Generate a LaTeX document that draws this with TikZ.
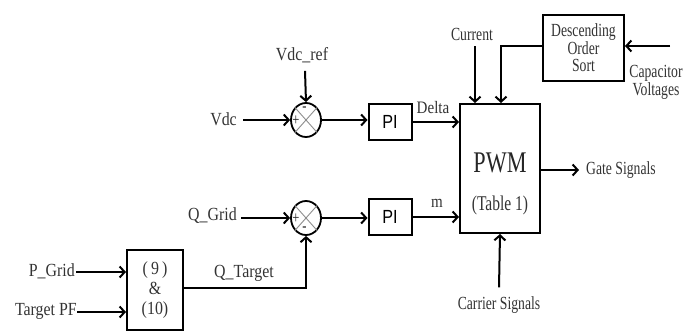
\documentclass[tikz,border=0pt]{standalone}
\usepackage{fontspec}
\setmainfont{Liberation Serif}[FakeStretch=0.74]
\newfontfamily\widefont{Liberation Serif}[FakeStretch=0.86]
\newfontfamily\pisans{Liberation Sans}[FakeStretch=0.85]
\usetikzlibrary{arrows.meta,shapes.geometric,calc}
\begin{document}
\begin{tikzpicture}[x=1pt,y=-1pt,
  lbl/.style={font=\fontsize{18.5}{19}\selectfont, text=black!80, inner sep=0pt},
  wlbl/.style={font=\widefont\fontsize{18.5}{19}\selectfont, text=black!80, inner sep=0pt},
  blk/.style={draw, line width=2pt, inner sep=0pt},
  summ/.style={draw, line width=1.8pt, ellipse, minimum width=30pt, minimum height=34pt, inner sep=0pt},
  arr/.style={line width=2pt, -{Straight Barb[length=5pt,width=11pt,line width=2pt]}},
  xmark/.style={draw=black!45, line width=0.9pt},
  sgn/.style={font=\fontsize{17}{17}\selectfont, inner sep=0pt, text=black!85}
]
\useasboundingbox (0,0) rectangle (684,332);

% blocks
\node[summ] (s1) at (306,120) {};
\node[summ] (s2) at (306,218) {};
\node[blk, minimum width=43pt, minimum height=36pt, font=\pisans\fontsize{19}{19}\selectfont] (pi1) at (390,122) {PI};
\node[blk, minimum width=43pt, minimum height=36pt, font=\pisans\fontsize{19}{19}\selectfont] (pi2) at (390,217) {PI};
\node[blk, minimum width=80pt, minimum height=129pt] (pwm) at (500,168.5) {};
\node[font=\fontsize{30}{30}\selectfont, text=black!85, inner sep=0pt] (pwmt) at (500,163) {PWM};
\node[lbl, font=\fontsize{21}{21}\selectfont] (tab) at (500,205) {(Table 1)};
\node[blk, minimum width=81pt, minimum height=66pt, align=center, lbl, font=\fontsize{18.5}{17.5}\selectfont] (sort) at (583.5,48) {Descending\\Order\\Sort};
\node[blk, minimum width=56pt, minimum height=80pt, align=center, wlbl, font=\widefont\fontsize{18.5}{20}\selectfont] (eq) at (155,290) {(\,9\,)\\\&\\(10)};

% crosses
\draw[xmark] (s1.north east) -- (s1.south west) (s1.north west) -- (s1.south east);
\draw[xmark] (s2.north east) -- (s2.south west) (s2.north west) -- (s2.south east);
\node[sgn] (s1m) at (304.5,109) {-};
\node[sgn] (s1p) at (296,121) {+};
\node[sgn] (s2p) at (296,219) {+};
\node[sgn] (s2m) at (304.5,229) {-};

% labels
\node[wlbl, anchor=east] (vdc) at (237,119) {Vdc};
\node[wlbl] (vdcref) at (302,55) {Vdc\_ref};
\node[lbl, font=\widefont\fontsize{17.5}{19}\selectfont] (delta) at (433,108) {Delta};
\node[lbl, font=\widefont\fontsize{17.5}{19}\selectfont] (m) at (437,203) {m};
\node[wlbl, anchor=east] (qgrid) at (237,216) {Q\_Grid};
\node[wlbl] (qtarget) at (244,273) {Q\_Target};
\node[wlbl, anchor=east] (pgrid) at (75,271) {P\_Grid};
\node[wlbl, anchor=east] (tpf) at (77,311) {Target PF};
\node[lbl] (current) at (472,34) {Current};
\node[lbl, align=center, font=\fontsize{18.5}{15}\selectfont] (cap) at (656,82) {Capacitor\\Voltages};
\node[lbl, anchor=west] (gate) at (586,170) {Gate Signals};
\node[lbl] (carrier) at (499,305) {Carrier Signals};
\coordinate (capin) at (670,46);

% connectors
\draw[arr] ($(vdc.east)+(6,1)$) -- (s1.west);
\draw[arr] ($(vdcref.south)+(3,8)$) -- (s1.north);
\draw[arr] (s1.east) -- (s1.east -| pi1.west);
\draw[arr] (pi1.east) -- (pi1.east -| pwm.west);
\draw[arr] ($(qgrid.east)+(4,2)$) -- (s2.west);
\draw[arr] (s2.east) -- (s2.east -| pi2.west);
\draw[arr] (pi2.east) -- (pi2.east -| pwm.west);
\draw[arr] ($(eq.east)+(0,-2)$) -| (s2.south);
\draw[arr] ($(pgrid.east)+(1,1)$) -- ($(pgrid.east -| eq.west)+(0,1)$);
\draw[arr] ($(tpf.east)+(0,1)$) -- ($(tpf.east -| eq.west)+(0,1)$);
\draw[arr] ($(current.south)+(3,6)$) -- ($(pwm.north)+(-25,0)$);
\draw[arr] ($(sort.west)+(0,-2)$) -| ($(pwm.north)+(1,0)$);
\draw[arr] (capin) -- (capin -| sort.east);
\draw[arr] (pwm.east |- gate.west) -- ($(gate.west)+(-7,0)$);
\draw[arr] ($(carrier.north)+(0,-9)$) -- (pwm.south);
\end{tikzpicture}
\end{document}
